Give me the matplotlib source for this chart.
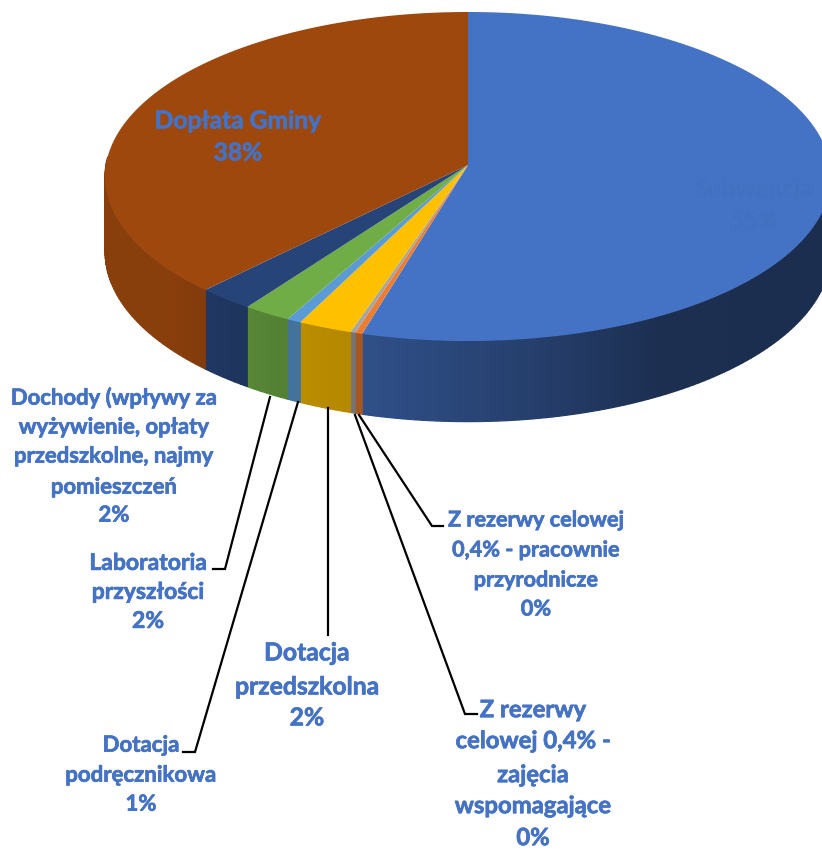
import numpy as np
import matplotlib
matplotlib.use("Agg")
import matplotlib.pyplot as plt
import matplotlib.patheffects as pe
from matplotlib.colors import to_rgb

plt.rcParams['font.family'] = ['Lato', 'DejaVu Sans']

names = ["Subwencja", "Z rezerwy celowej 0,4% - pracownie przyrodnicze",
         "Z rezerwy celowej 0,4% - zajęcia wspomagające", "Dotacja przedszkolna",
         "Dotacja podręcznikowa", "Laboratoria przyszłości",
         "Dochody (wpływy za wyżywienie, opłaty przedszkolne, najmy pomieszczeń",
         "Dopłata Gminy"]
values = [54.4, 0.3, 0.2, 2.25, 0.6, 2.0, 2.35, 37.9]
colors = ["#4472C4", "#ED7D31", "#A5A5A5", "#FFC000", "#5B9BD5", "#70AD47", "#264478", "#9E480E"]

# projection of the tilted disc
CX, CY = 468, 165
A, B, K = 362, 163.7, 0.0698
DEPTH = 75


def project(t):
    # t in radians, clockwise from the back of the disc
    X = np.sin(t)
    Y = -np.cos(t)
    w = 1 - K * Y
    return CX + A * X / w, CY + B * Y / w, DEPTH / w


def shade(t):
    # side wall gets darker towards the right
    d = np.degrees(t)
    return np.interp(d, [90, 150, 175, 196, 205, 220, 232, 270], [0.40, 0.41, 0.58, 0.70, 0.73, 0.80, 0.87, 0.87])


fig = plt.figure(figsize=(8.22, 8.52), dpi=100)
ax = fig.add_axes([0, 0, 1, 1])
ax.set_xlim(0, 822)
ax.set_ylim(852, 0)
ax.axis("off")

edges = np.cumsum([0] + values) / sum(values) * 2 * np.pi

# side wall first
for i in range(len(values)):
    lo, hi = max(edges[i], np.pi / 2 - 0.05), min(edges[i + 1], 3 * np.pi / 2 + 0.05)
    if hi <= lo:
        continue
    ts = np.linspace(lo, hi, max(2, int(np.degrees(hi - lo))))
    for a, b in zip(ts[:-1], ts[1:]):
        xa, ya, da = project(a)
        xb, yb, db = project(b)
        c = np.array(to_rgb(colors[i])) * shade((a + b) / 2)
        ax.fill([xa, xb, xb, xa], [ya, yb, yb + db, ya + da], facecolor=c, edgecolor=c, lw=0.9, zorder=1)

# top face
for i in range(len(values)):
    ts = np.linspace(edges[i], edges[i + 1], max(3, int(values[i] * 8)))
    x, y, _ = project(ts)
    ax.fill(np.r_[CX, x], np.r_[CY, y], color=colors[i], lw=0, zorder=2)

# leader lines
leaders = [
    ([270, 225, 213], [397, 569, 569]),
    ([298, 195, 183], [402, 752, 752]),
    ([328, 328], [408, 635]),
    ([355, 465, 477], [415, 714, 714]),
    ([359, 432, 443], [415, 526, 526]),
]
for lx, ly in leaders:
    ax.plot(lx, ly, color="black", lw=1.6, zorder=3, solid_joinstyle="miter")

TXT = "#4472C4"
labels = [
    (114, 15.9, [398, 427, 456, 487, 515], ["Dochody (wpływy za", "wyżywienie, opłaty", "przedszkolne, najmy", "pomieszczeń", "2%"]),
    (148, 16.5, [563, 592, 621], ["Laboratoria", "przyszłości", "2%"]),
    (141, 16.0, [745, 775, 804], ["Dotacja", "podręcznikowa", "1%"]),
    (307, 17.8, [653, 687, 718], ["Dotacja", "przedszkolna", "2%"]),
    (533, 17.2, [710, 741, 775, 806, 838], ["Z rezerwy", "celowej 0,4% -", "zajęcia", "wspomagające", "0%"]),
    (536, 15.6, [520, 550, 580, 609], ["Z rezerwy celowej", "0,4% - pracownie", "przyrodnicze", "0%"]),
    (238, 17.7, [121, 153], ["Dopłata Gminy", "38%"]),
]
for x, fs, ys, lines in labels:
    for y, s in zip(ys, lines):
        ax.text(x, y + 0.3 * fs * 100 / 72, s, ha="center", va="baseline", fontsize=fs,
                fontweight="bold", color=TXT, zorder=4,
                path_effects=[pe.withStroke(linewidth=0.5, foreground=TXT)])

# barely visible on the blue slice, cut by the right edge
for y, s in zip([190, 222], ["Subwencja", "55%"]):
    ax.text(754, y + 0.3 * 17.7 * 100 / 72, s, ha="center", va="baseline", fontsize=17.7, fontweight="bold",
            color="#4371C1", zorder=4, clip_on=True)

fig.savefig("out.png", dpi=100)
